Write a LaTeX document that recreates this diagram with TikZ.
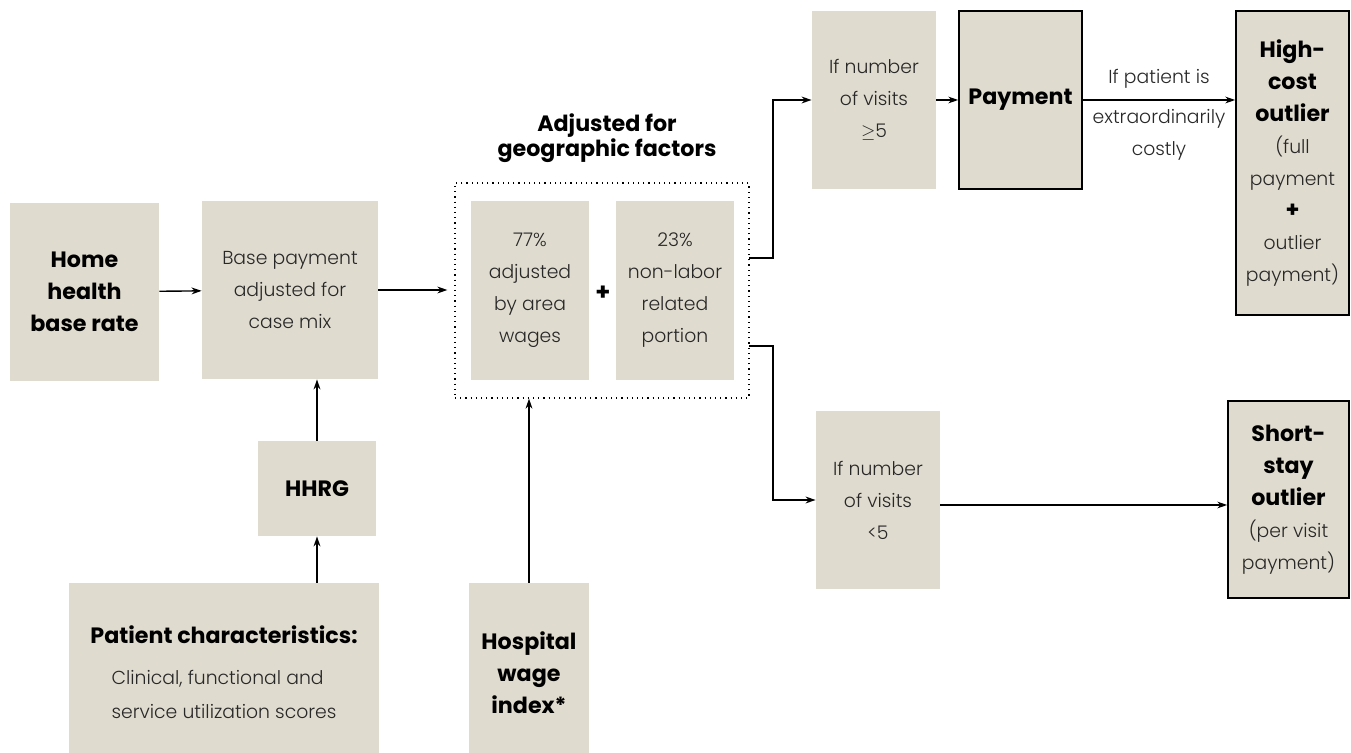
\documentclass[tikz,border=0pt]{standalone}
\usepackage{fontspec}
\setmainfont{Poppins Light}[BoldFont={Poppins Bold}]
\usepackage{xcolor}
\usetikzlibrary{arrows.meta,positioning}
\definecolor{boxfill}{RGB}{223,219,207}
\definecolor{textgray}{RGB}{40,40,40}
\newcommand{\heavy}[1]{\textcolor{black}{\fontsize{11.1}{16}\selectfont\bfseries #1}}

\begin{document}
\begin{tikzpicture}[x=0.5pt,y=-0.5pt,
		font=\fontsize{9.4}{16}\selectfont,
		boxsize/.style 2 args={minimum width=#1*0.5pt,minimum height=#2*0.5pt},
		box/.style={fill=boxfill,inner sep=0pt,align=center,text=textgray},
		result/.style={box,draw=black,line width=0.8pt},
		arr/.style={-{Stealth[length=5pt,width=3.4pt]},line width=0.7pt}]
		\useasboundingbox (0,0) rectangle (1351,753);
		% inputs
		\node[box,boxsize={149}{178}] (home) at (84.5,292) {\heavy{Home}\\\heavy{health}\\\heavy{base rate}};
		\node[box,boxsize={176}{178}] (base) at (290,290) {Base payment\\adjusted for\\case mix};
		\node[box,boxsize={118}{95}] (hhrg) at (317,488.5) {\heavy{HHRG}};
		% the two lower boxes run off the bottom edge
		\node[box,boxsize={310}{188}] (patient) at (224,677) {\heavy{Patient characteristics:}\\[8pt]
			\begin{tabular}{@{}l@{}}Clinical, functional and\\[1pt]service utilization scores\end{tabular}};
		\node[box,boxsize={120}{180}] (hospital) at (529,673) {\heavy{Hospital}\\\heavy{wage}\\\heavy{index*}};
		%
		% geographic adjustment
		\node[draw,dotted,line width=0.6pt,inner sep=0pt,boxsize={294}{215}] (geo) at (602,290.5) {};
		\node[align=center,font=\fontsize{11.1}{12.5}\selectfont\bfseries] (geotitle) at (607,138) {Adjusted for\\geographic factors};
		\node[box,boxsize={118}{179}] (labor) at (530,290.5) {77\%\\adjusted\\by area\\wages};
		\node[box,boxsize={118}{179}] (nonlabor) at (675,290.5) {23\%\\non-labor\\related\\portion};
		\node[font=\fontsize{12}{12}\selectfont\bfseries] (plus) at (603,293) {+};
		%
		% outcomes
		\node[box,boxsize={124}{178}] (many) at (874,100) {If number\\of visits\\$\geq$5};
		\node[result,boxsize={123}{178}] (pay) at (1020.5,100) {\heavy{Payment}};
		\node[result,boxsize={113}{304}] (high) at (1292.5,163) {\heavy{High-}\\\heavy{cost}\\\heavy{outlier}\\(full\\payment\\\heavy{+}\\outlier\\payment)};
		\node[box,boxsize={124}{178}] (few) at (878,500) {If number\\of visits\\<5};
		\node[result,boxsize={121}{197}] (short) at (1288.5,499.5) {\heavy{Short-}\\\heavy{stay}\\\heavy{outlier}\\(per visit\\payment)};
		\coordinate (upout) at (749,258);
		\coordinate (downout) at (749,346);
		%
		% connectors
		\draw[arr] (home) -- (base);
		\draw[arr,shorten >=7pt*0.5] (base) -- (base -| geo.west);
		\draw[arr] (hhrg.north) -- (hhrg.north |- base.south);
		\draw[arr] (hhrg.south |- patient.north) -- (hhrg.south);
		\draw[arr] (hospital.north) -- (hospital.north |- geo.south);
		\draw[arr] (upout) -- ++(24,0) |- (many.west);
		\draw[arr] (downout) -- ++(24,0) |- (few.west);
		\draw[arr] (many) -- (pay);
		\draw[arr] (pay.east) -- node[above=2pt,text=textgray] (costlabel) {If patient is} node[below=1pt,text=textgray,align=center] {extraordinarily\\costly} (pay.east -| high.west);
		\draw[arr] (few.east |- 0,505) -- (short.west |- 0,505);
	\end{tikzpicture}
\end{document}
